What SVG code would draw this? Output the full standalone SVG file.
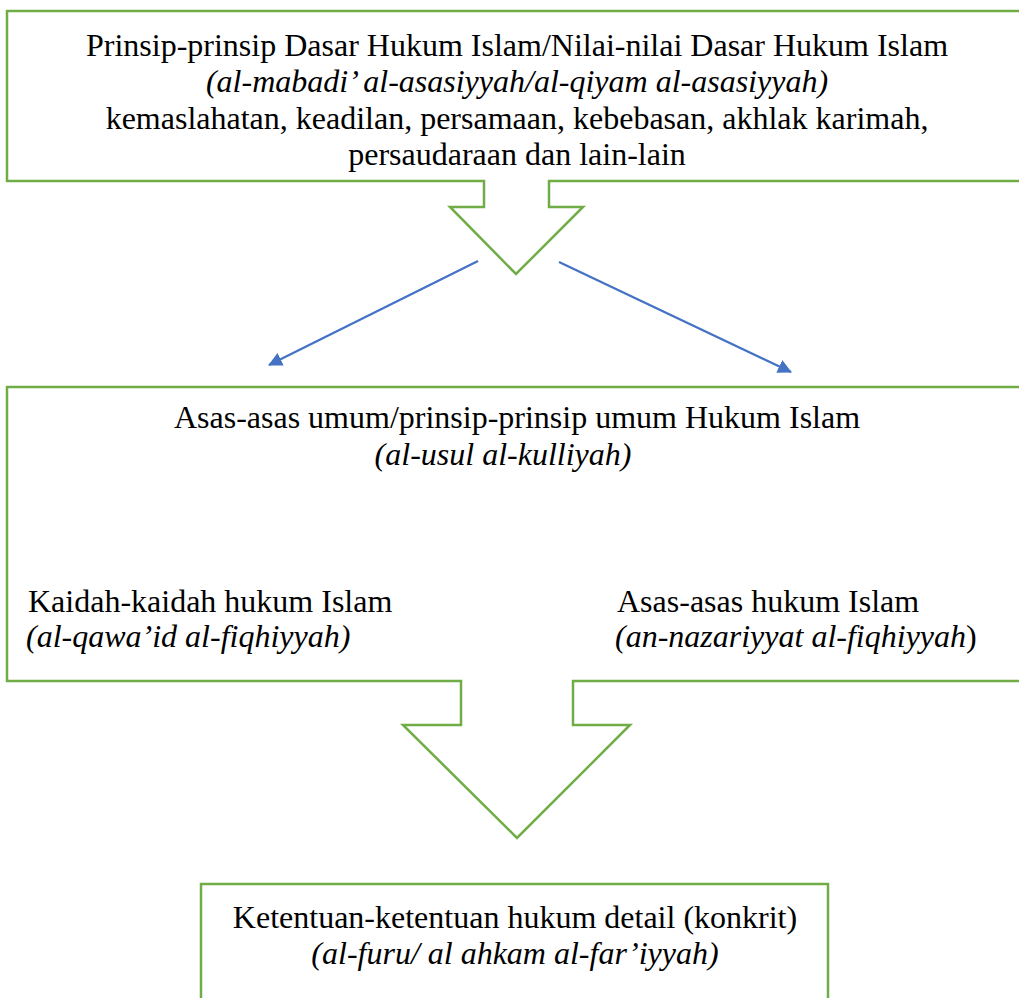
<svg xmlns="http://www.w3.org/2000/svg" width="1019" height="998" viewBox="0 0 1019 998">
<style>
.box{fill:#ffffff;stroke:#70AD47;stroke-width:2.5;stroke-linejoin:miter}
.t{font-family:"Liberation Serif","Times New Roman",serif;font-size:32px;fill:#000000}
.c{text-anchor:middle}
.i{font-style:italic}
.con{stroke:#4472C4;stroke-width:2.25;fill:none}
</style>
<defs>
<marker id="ah" markerUnits="userSpaceOnUse" markerWidth="14" markerHeight="14" refX="13" refY="7" orient="auto" viewBox="0 0 14 14">
<path d="M0,0 L14,7 L0,14 Z" fill="#4472C4"/>
</marker>
</defs>
<rect width="1019" height="998" fill="#ffffff"/>
<g id="node-prinsip-dasar">
<path class="box" d="M1030,11 H7 V181 H484 V207 H450 L516,274 L583,207 H549 V181 H1030 Z"/>
<text class="t c" x="517" y="56">Prinsip-prinsip Dasar Hukum Islam/Nilai-nilai Dasar Hukum Islam</text>
<text class="t c i" x="517" y="92">(al-mabadi’ al-asasiyyah/al-qiyam al-asasiyyah)</text>
<text class="t c" x="517" y="129">kemaslahatan, keadilan, persamaan, kebebasan, akhlak karimah,</text>
<text class="t c" x="517" y="165">persaudaraan dan lain-lain</text>
</g>
<g id="node-asas-umum">
<path class="box" d="M1030,387 H7 V681 H461 V725 H403 L517,838 L630,725 H573 V681 H1030 Z"/>
<text class="t c" x="517" y="428">Asas-asas umum/prinsip-prinsip umum Hukum Islam</text>
<text class="t c i" x="503" y="465">(al-usul al-kulliyah)</text>
<text class="t" x="28" y="612">Kaidah-kaidah hukum Islam</text>
<text class="t i" x="26" y="647">(al-qawa’id al-fiqhiyyah)</text>
<text class="t" x="617" y="612">Asas-asas hukum Islam</text>
<text class="t i" x="615" y="647">(an-nazariyyat al-fiqhiyyah<tspan font-style="normal">)</tspan></text>
</g>
<g id="node-ketentuan">
<path class="box" d="M201,1010 V884 H828 V1010"/>
<text class="t c" x="515" y="928">Ketentuan-ketentuan hukum detail (konkrit)</text>
<text class="t c i" x="515" y="964">(al-furu/ al ahkam al-far’iyyah)</text>
</g>
<g id="connectors">
<line class="con" x1="478" y1="261" x2="269" y2="365" marker-end="url(#ah)"/>
<line class="con" x1="559" y1="262" x2="791" y2="372" marker-end="url(#ah)"/>
</g>
</svg>
